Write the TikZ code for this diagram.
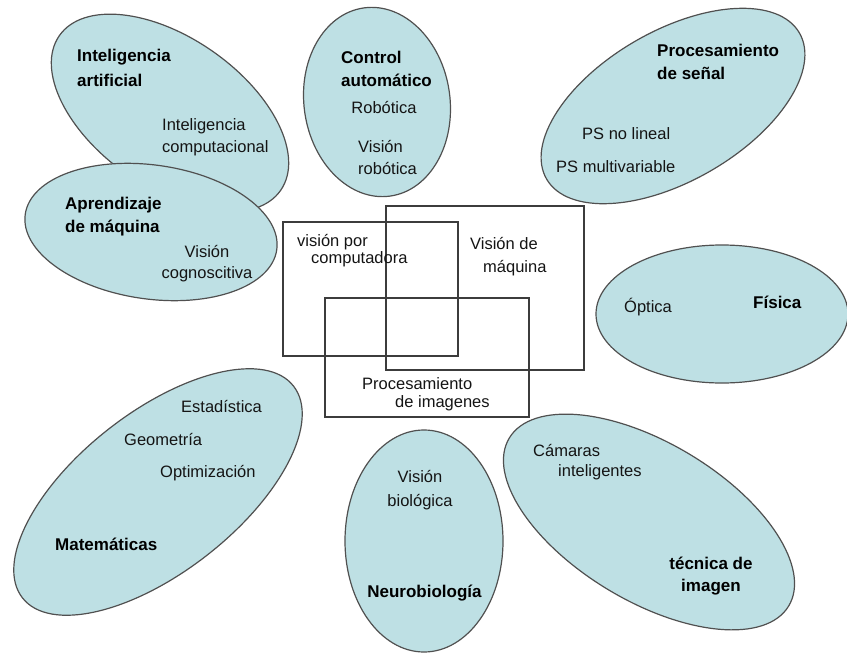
\documentclass[tikz,border=0pt]{standalone}
\usepackage{fontspec}
\setmainfont{Liberation Sans}
\usetikzlibrary{shapes.geometric}
\definecolor{areafill}{RGB}{190,224,228}
\definecolor{arealine}{RGB}{80,80,80}
\definecolor{boxline}{RGB}{60,60,60}
\definecolor{ink}{RGB}{20,20,20}
\tikzset{
  area/.style={ellipse, draw=arealine, line width=1.2pt, fill=areafill, inner sep=0pt},
  fieldbox/.style={rectangle, draw=boxline, line width=1.5pt, inner sep=0pt},
  lbl/.style={inner sep=0pt, text=ink, font=\fontsize{16.5}{22}\selectfont},
  head/.style={inner sep=0pt, text=black, font=\fontsize{17}{23}\selectfont\bfseries}
}
\begin{document}
\begin{tikzpicture}[x=1pt,y=-1pt]
\useasboundingbox (0,0) rectangle (847,653);

% knowledge areas
\node[area, minimum width=270, minimum height=150, rotate=-35] (ai)    at (170,113) {};
\node[area, minimum width=254, minimum height=134, rotate=-8]  (ml)    at (151,232) {};
\node[area, minimum width=146, minimum height=190, rotate=8]   (ctrl)  at (377,102) {};
\node[area, minimum width=292, minimum height=150, rotate=30]  (sig)   at (673,106) {};
\node[area, minimum width=252, minimum height=138]             (phys)  at (722,314) {};
\node[area, minimum width=344, minimum height=160, rotate=38]  (math)  at (158,492) {};
\node[area, minimum width=158, minimum height=222]             (neuro) at (424,541) {};
\node[area, minimum width=326, minimum height=158, rotate=-31] (img)   at (649,522) {};

% overlapping fields in the middle
\node[fieldbox, minimum width=175, minimum height=134] (cv) at (370.5,289) {};
\node[fieldbox, minimum width=198, minimum height=164] (mv) at (485,288) {};
\node[fieldbox, minimum width=204, minimum height=119] (ip) at (427,357.5) {};

% labels of the areas
\node[head, align=left, anchor=west, font=\fontsize{17}{25}\selectfont\bfseries] (tai) at (77,67.5) {Inteligencia\\artificial};
\node[lbl, align=left, anchor=west] (tci) at (162,137) {Inteligencia\\computacional};
\node[head, align=left, anchor=west] (tml) at (65,217) {Aprendizaje\\de máquina};
\node[lbl, align=center, font=\fontsize{16.5}{21}\selectfont] (tvc) at (207,263.5) {Visión\\cognoscitiva};

\node[head, align=left, anchor=west] (tctrl) at (341,68.5) {Control\\automático};
\node[lbl] (trob) at (384,108) {Robótica};
\node[lbl, align=left, anchor=west] (tvr) at (358,158) {Visión\\robótica};

\node[head, align=left, anchor=west] (tsig) at (657,61.5) {Procesamiento\\de señal};
\node[lbl, anchor=west] (tnl) at (582,134) {PS no lineal};
\node[lbl, anchor=west] (tmv) at (556,167) {PS multivariable};

\node[lbl, anchor=west] (topt) at (624,307) {Óptica};
\node[head, anchor=west] (tphys) at (753,302) {Física};

\node[lbl, anchor=west] (test) at (181,407) {Estadística};
\node[lbl, anchor=west] (tgeo) at (124,440) {Geometría};
\node[lbl, anchor=west] (toptz) at (160,473) {Optimización};
\node[head, anchor=west] (tmath) at (55,544) {Matemáticas};

\node[lbl, align=center, font=\fontsize{16.5}{24}\selectfont] (tvb) at (420,490) {Visión\\biológica};
\node[head] (tneuro) at (424.5,593) {Neurobiología};

\node[lbl, align=left, anchor=west, font=\fontsize{16.5}{20}\selectfont] (tcam) at (533,462) {Cámaras\\\hspace*{25pt}inteligentes};
\node[head, align=center, font=\fontsize{17}{22}\selectfont\bfseries] (timg) at (711,576) {técnica de\\imagen};

% labels of the central fields
\node[lbl, align=left, anchor=west, font=\fontsize{16.5}{17}\selectfont] (tcv) at (297,250.5) {visión por\\\hspace*{14pt}computadora};
\node[lbl, align=left, anchor=west, font=\fontsize{16.5}{23}\selectfont] (tmvl) at (470,256.5) {Visión de\\\hspace*{13pt}máquina};
\node[lbl, align=left, anchor=west, font=\fontsize{16.5}{18}\selectfont] (tip) at (362,394) {Procesamiento\\\hspace*{33pt}de imagenes};
\end{tikzpicture}
\end{document}
